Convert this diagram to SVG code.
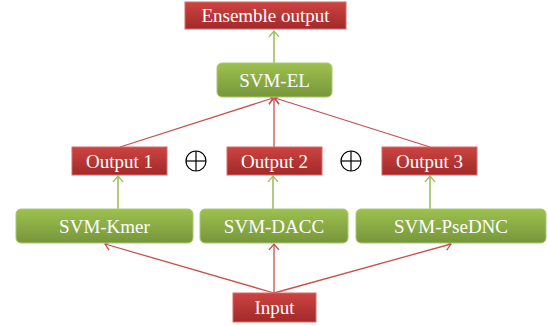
<svg xmlns="http://www.w3.org/2000/svg" width="548" height="326" viewBox="0 0 548 326">
<defs>
<linearGradient id="gr" x1="0" y1="0" x2="0" y2="1"><stop offset="0" stop-color="#cc4441"/><stop offset="1" stop-color="#a2292a"/></linearGradient>
<linearGradient id="gg" x1="0" y1="0" x2="0" y2="1"><stop offset="0" stop-color="#9dc14f"/><stop offset="1" stop-color="#76963a"/></linearGradient>
<marker id="arR" viewBox="-6 -6 12 12" refX="0" refY="0" markerWidth="12" markerHeight="12" markerUnits="userSpaceOnUse" orient="auto"><path d="M-6 -5 L0 0 L-6 5" fill="none" stroke="#c8504d" stroke-width="1.3"/></marker>
<marker id="arG" viewBox="-6 -6 12 12" refX="0" refY="0" markerWidth="12" markerHeight="12" markerUnits="userSpaceOnUse" orient="auto"><path d="M-6 -5 L0 0 L-6 5" fill="none" stroke="#9dbf5e" stroke-width="1.3"/></marker>
</defs>
<style>
.red{fill:url(#gr);stroke:#d56a66;stroke-width:1}
.grn{fill:url(#gg);stroke:#a9c873;stroke-width:1}
text{font-family:"Liberation Serif","DejaVu Serif",serif;font-size:19px;fill:#ffffff;text-anchor:middle}
.lr{stroke:#c8504d;stroke-width:1.3;fill:none;marker-end:url(#arR)}
.lg{stroke:#9dbf5e;stroke-width:1.6;fill:none;marker-end:url(#arG)}
.op{stroke:#000;stroke-width:1.2;fill:none}
</style>
<g id="connectors">
<line class="lg" x1="274" y1="63" x2="274" y2="31"/>
<line class="lr" x1="120" y1="147" x2="273" y2="98"/>
<line class="lr" x1="274" y1="147" x2="274" y2="98"/>
<line class="lr" x1="430" y1="147" x2="275" y2="98"/>
<line class="lg" x1="118" y1="209" x2="118" y2="176"/>
<line class="lg" x1="273" y1="209" x2="273" y2="176"/>
<line class="lg" x1="430" y1="209" x2="430" y2="176"/>
<line class="lr" x1="274" y1="293" x2="105" y2="244"/>
<line class="lr" x1="274" y1="293" x2="274" y2="244"/>
<line class="lr" x1="274" y1="293" x2="451" y2="244"/>
</g>
<g id="ensemble"><rect class="red" x="185" y="2" width="161" height="27"/><text x="265.5" y="22">Ensemble output</text></g>
<g id="svmel"><rect class="grn" x="217" y="63" width="115" height="34" rx="5"/><text x="274.5" y="86.5">SVM-EL</text></g>
<g id="out1"><rect class="red" x="72" y="147" width="95" height="28"/><text x="119.5" y="167.5">Output 1</text></g>
<g id="out2"><rect class="red" x="227" y="147" width="95" height="28"/><text x="274.5" y="167.5">Output 2</text></g>
<g id="out3"><rect class="red" x="382" y="147" width="95" height="28"/><text x="429.5" y="167.5">Output 3</text></g>
<g id="plus1"><circle class="op" cx="196" cy="161" r="10"/><line class="op" x1="186" y1="161" x2="206" y2="161"/><line class="op" x1="196" y1="151" x2="196" y2="171"/></g>
<g id="plus2"><circle class="op" cx="351" cy="161" r="10"/><line class="op" x1="341" y1="161" x2="361" y2="161"/><line class="op" x1="351" y1="151" x2="351" y2="171"/></g>
<g id="kmer"><rect class="grn" x="16" y="209" width="177" height="34" rx="5"/><text x="104.5" y="232.5">SVM-Kmer</text></g>
<g id="dacc"><rect class="grn" x="200" y="209" width="148" height="34" rx="5"/><text x="274" y="232.5">SVM-DACC</text></g>
<g id="psednc"><rect class="grn" x="356" y="209" width="190" height="34" rx="5"/><text x="451" y="232.5">SVM-PseDNC</text></g>
<g id="input"><rect class="red" x="233" y="293" width="83" height="29"/><text x="274.5" y="313.5">Input</text></g>
</svg>
